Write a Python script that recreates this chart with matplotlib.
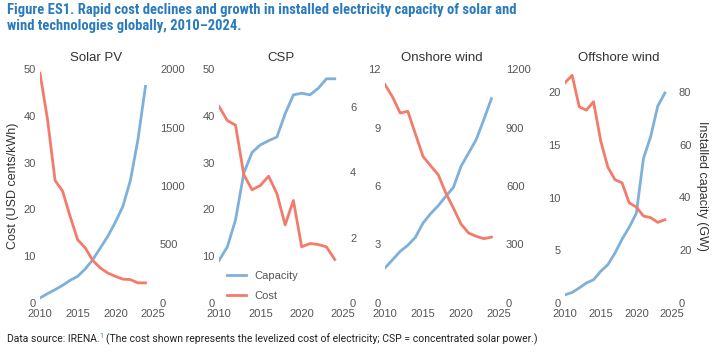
import matplotlib
matplotlib.use("Agg")
import matplotlib.pyplot as plt
from matplotlib import font_manager as fm

years = list(range(2010, 2025))

solar_cost = [49.1, 39.2, 26.2, 23.9, 18.5, 13.5, 11.8, 9.1, 7.5, 6.4, 5.7, 5.1, 5.0, 4.3, 4.3]
solar_cap = [43, 80, 114, 151, 194, 228, 291, 370, 470, 570, 690, 826, 1048, 1396, 1852]

csp_cost = [42.0, 39.0, 38.0, 27.4, 24.2, 25.1, 27.1, 23.4, 16.7, 21.9, 12.0, 12.7, 12.5, 12.0, 9.3]
csp_cap = [1.30, 1.71, 2.54, 3.97, 4.60, 4.83, 4.96, 5.07, 5.78, 6.36, 6.41, 6.36, 6.56, 6.85, 6.85]

on_cost = [11.2, 10.56, 9.74, 9.83, 8.67, 7.52, 7.04, 6.58, 5.64, 4.87, 4.05, 3.59, 3.42, 3.30, 3.38]
on_cap = [180, 222, 265, 296, 337, 410, 458, 499, 547, 593, 701, 769, 838, 940, 1048]

off_cost = [20.9, 21.6, 18.6, 18.3, 19.1, 15.4, 12.9, 11.7, 11.4, 9.5, 9.1, 8.25, 8.1, 7.65, 7.9]
off_cap = [3.1, 4.0, 5.7, 7.6, 8.8, 12.0, 14.5, 18.9, 24.2, 28.7, 34.0, 54.8, 63.0, 74.6, 79.6]

titles = ["Solar PV", "CSP", "Onshore wind", "Offshore wind"]
costs = [solar_cost, csp_cost, on_cost, off_cost]
caps = [solar_cap, csp_cap, on_cap, off_cap]
left_lims = [(0, 50), (0, 50), (0, 12), (0, 22.2)]
left_ticks = [[0, 10, 20, 30, 40, 50], [0, 10, 20, 30, 40, 50], [0, 3, 6, 9, 12], [0, 5, 10, 15, 20]]
right_lims = [(0, 2000), (0, 7.15), (0, 1200), (0, 88.7)]
right_ticks = [[0, 500, 1000, 1500, 2000], [0, 2, 4, 6], [0, 300, 600, 900, 1200], [0, 20, 40, 60, 80]]
xticks = [2010, 2015, 2020, 2025]

BLUE = "#7eb0d9"
RED = "#f27b6b"
BG = "#ebebeb"
TXT = "#555555"

names = {f.name for f in fm.fontManager.ttflist}


def pick(cands):
    for c in cands:
        if c in names:
            return [c, "DejaVu Sans"]
    return ["DejaVu Sans"]


CH = pick(["Liberation Sans", "Arimo", "Arial", "Helvetica"])
TITLE_FAM = pick(["Roboto Condensed", "Archivo Narrow", "Asap Condensed", "Sofia Sans Condensed", "Roboto"])
FOOT = pick(["Roboto"])
plt.rcParams["font.family"] = CH

W, H = 712, 352
fig = plt.figure(figsize=(W / 100, H / 100), dpi=100)

xb = [(40, 153), (219, 343), (385, 499), (565, 672)]
top, bottom = 69, 303

for i in range(4):
    l, r = xb[i]
    ax = fig.add_axes([l / W, 1 - bottom / H, (r - l) / W, (bottom - top) / H])
    ax2 = ax.twinx()
    ax.set_zorder(ax2.get_zorder() + 1)
    ax.patch.set_visible(False)
    ax2.patch.set_facecolor(BG)
    ax.set_ylim(*left_lims[i])
    ax.set_yticks(left_ticks[i])
    ax2.set_ylim(*right_lims[i])
    ax2.set_yticks(right_ticks[i])
    ax.set_xlim(2010, 2025)
    ax.set_xticks(xticks)
    ax.grid(True, color="white", linewidth=1.0)
    ax.set_axisbelow(True)
    for a in (ax, ax2):
        for s in a.spines.values():
            s.set_visible(False)
        a.tick_params(length=0, labelsize=8, labelcolor=TXT, pad=3)
    ax.tick_params(axis="x", pad=4)
    ax2.tick_params(pad=5)
    ax.plot(years, [v * left_lims[i][1] / right_lims[i][1] for v in caps[i]], color=BLUE, lw=2, label="Capacity")
    ax.plot(years, costs[i], color=RED, lw=2, label="Cost")
    ax.set_title(titles[i], fontsize=9.5, color="#333333", pad=6)
    if i == 0:
        ax.set_ylabel("Cost (USD cents/kWh)", fontsize=9, color="#333333", labelpad=3)
    if i == 3:
        ax2.set_ylabel("Installed capacity (GW)", fontsize=9, color="#333333", rotation=270, labelpad=12)
    if i == 1:
        ax.legend(loc="lower left", bbox_to_anchor=(0.0, -0.025), frameon=False, fontsize=8,
                  handlelength=1.7, handletextpad=0.8, labelspacing=0.95,
                  borderaxespad=0.3, labelcolor=TXT)

title_txt = "Figure ES1. Rapid cost declines and growth in installed electricity capacity of solar and\nwind technologies globally, 2010\u20132024."
tt = fig.text(7 / W, 1 - 3 / H, title_txt, fontsize=10.5, fontweight="bold",
              family=TITLE_FAM, color="#2a7bbd", ha="left", va="top", linespacing=1.2)

t1 = fig.text(7 / W, 1 - 342 / H, "Data source: IRENA.", fontsize=7.5, color="#222222", ha="left",
              va="baseline", family=FOOT)
fig.canvas.draw()
bb = t1.get_window_extent()
t2 = fig.text(bb.x1 / W, 1 - 338 / H, "1", fontsize=5, color="#2e9d4a", ha="left", va="baseline", family=FOOT)
fig.canvas.draw()
bb2 = t2.get_window_extent()
fig.text((bb2.x1 + 2) / W, 1 - 342 / H,
         "(The cost shown represents the levelized cost of electricity; CSP = concentrated solar power.)",
         fontsize=7.5, color="#222222", ha="left", va="baseline", family=FOOT)

fig.savefig("out.png", dpi=100)
